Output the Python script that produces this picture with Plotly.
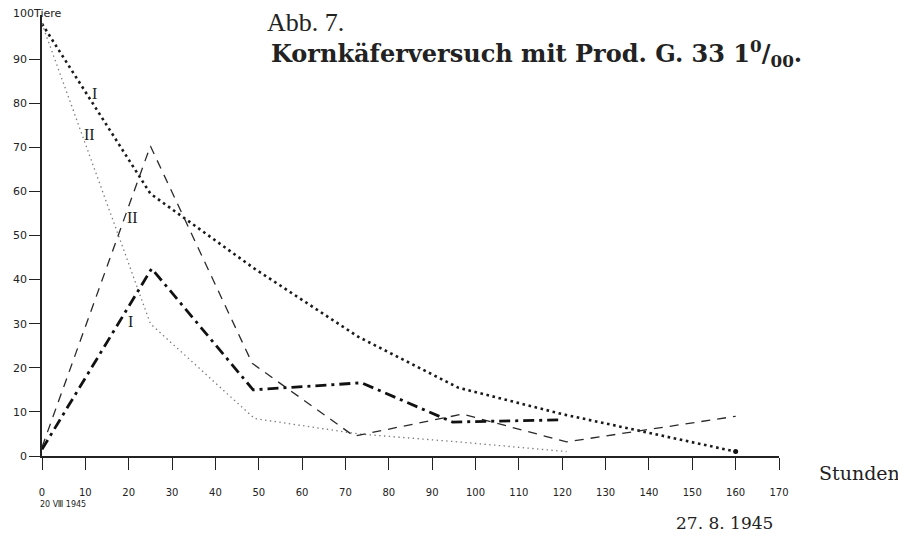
import plotly.graph_objects as go

# Hours after start (20. VIII. 1945)
hours = [0, 25, 49, 73, 96, 120, 160]

# Series I (bold dotted): surviving animals
surv_I = [98, 59.5, 42.5, 27, 15.5, 9.5, 1]
# Series II (fine dotted): surviving animals
hours_II = [0, 25, 49, 73, 96, 121]
surv_II = [98, 30, 8.5, 5, 3.2, 1]
# Series II (dashed)
hours_dII = [0, 25, 48.5, 72, 97, 121, 160]
dead_II = [2, 70.3, 21, 4.5, 9.5, 3.2, 9]
# Series I (heavy dash-dot)
hours_dI = [0, 25.3, 48.7, 73.7, 94.7, 120]
dead_I = [1.5, 42.5, 15, 16.6, 7.7, 8.2]

x_ticks = list(range(0, 171, 10))
y_ticks = list(range(0, 91, 10))

# Series labels (text, hour, value)
label_text = ["I", "II", "II", "I"]
label_x = [12, 11, 20.8, 20.3]
label_y = [82.3, 72.8, 54, 30.4]

fig = go.Figure()
fig.add_trace(go.Scatter(x=hours, y=surv_I, mode="lines",
                         line=dict(color="#1a1a1a", width=2.6, dash="2.6px,3.6px")))
fig.add_trace(go.Scatter(x=hours_II, y=surv_II, mode="lines",
                         line=dict(color="#7a7a7a", width=1.3, dash="1.4px,3.4px")))
fig.add_trace(go.Scatter(x=hours_dII, y=dead_II, mode="lines",
                         line=dict(color="#2a2a2a", width=1.3, dash="9px,7px")))
fig.add_trace(go.Scatter(x=hours_dI, y=dead_I, mode="lines",
                         line=dict(color="#111111", width=2.8, dash="11px,5px,3px,5px")))
fig.add_trace(go.Scatter(x=[hours[-1]], y=[surv_I[-1]], mode="markers",
                         marker=dict(color="#111", size=5)))

serif = "DejaVu Serif"
serif2 = "Liberation Serif"
sans = "DejaVu Sans"

for t, x, y in zip(label_text, label_x, label_y):
    fig.add_annotation(x=x, y=y, text=t, showarrow=False,
                       font=dict(family=serif2, size=16, color="#222"))

fig.add_annotation(xref="paper", yref="paper", x=-0.042, y=1.004, xanchor="left",
                   yanchor="middle", text="100Tiere", showarrow=False,
                   font=dict(family=sans, size=11, color="#222"))
fig.add_annotation(xref="paper", yref="paper", x=-0.006, y=-0.095, xanchor="left",
                   yanchor="top", text="20 Ⅷ 1945", showarrow=False,
                   font=dict(family=sans, size=8, color="#222"))
fig.add_annotation(xref="paper", yref="paper", x=1.052, y=-0.008, xanchor="left",
                   yanchor="top", text="Stunden", showarrow=False,
                   font=dict(family=serif, size=19, color="#222"))
fig.add_annotation(xref="paper", yref="paper", x=0.857, y=-0.125, xanchor="left",
                   yanchor="top", text="27. 8. 1945", showarrow=False,
                   font=dict(family=serif, size=17, color="#222"))
fig.add_annotation(xref="paper", yref="paper", x=0.303, y=1.02, xanchor="left",
                   yanchor="top", text="Abb. 7.", showarrow=False,
                   font=dict(family=serif2, size=26, color="#222"))
fig.add_annotation(xref="paper", yref="paper", x=0.308, y=0.957, xanchor="left",
                   yanchor="top",
                   text="<b>Kornkäferversuch mit Prod. G. 33 1<sup>0</sup>/<sub>00</sub>.</b>",
                   showarrow=False,
                   font=dict(family=serif, size=24, color="#222"))

# The page body adds an 8 px offset; the figure is sized to fit the window.
fig.update_layout(
    width=898, height=534,
    margin=dict(l=34, r=127, t=7, b=86),
    paper_bgcolor="white", plot_bgcolor="white",
    showlegend=False,
    xaxis=dict(range=[0, 170], tickvals=x_ticks, ticktext=[str(v) for v in x_ticks],
               showgrid=False, zeroline=False, showline=True, linecolor="#222",
               linewidth=1.5, ticks="outside", ticklen=12, tickwidth=1.3,
               tickcolor="#222", ticklabelstandoff=14, automargin=False,
               tickfont=dict(family=sans, size=10, color="#222")),
    yaxis=dict(range=[0, 100], tickvals=y_ticks, ticktext=[str(v) for v in y_ticks],
               showgrid=False, zeroline=False, showline=True, linecolor="#222",
               linewidth=1.5, ticks="outside", ticklen=11, tickwidth=1.3,
               tickcolor="#222", automargin=False,
               tickfont=dict(family=sans, size=11, color="#222")),
)

fig.write_html("out.html")
